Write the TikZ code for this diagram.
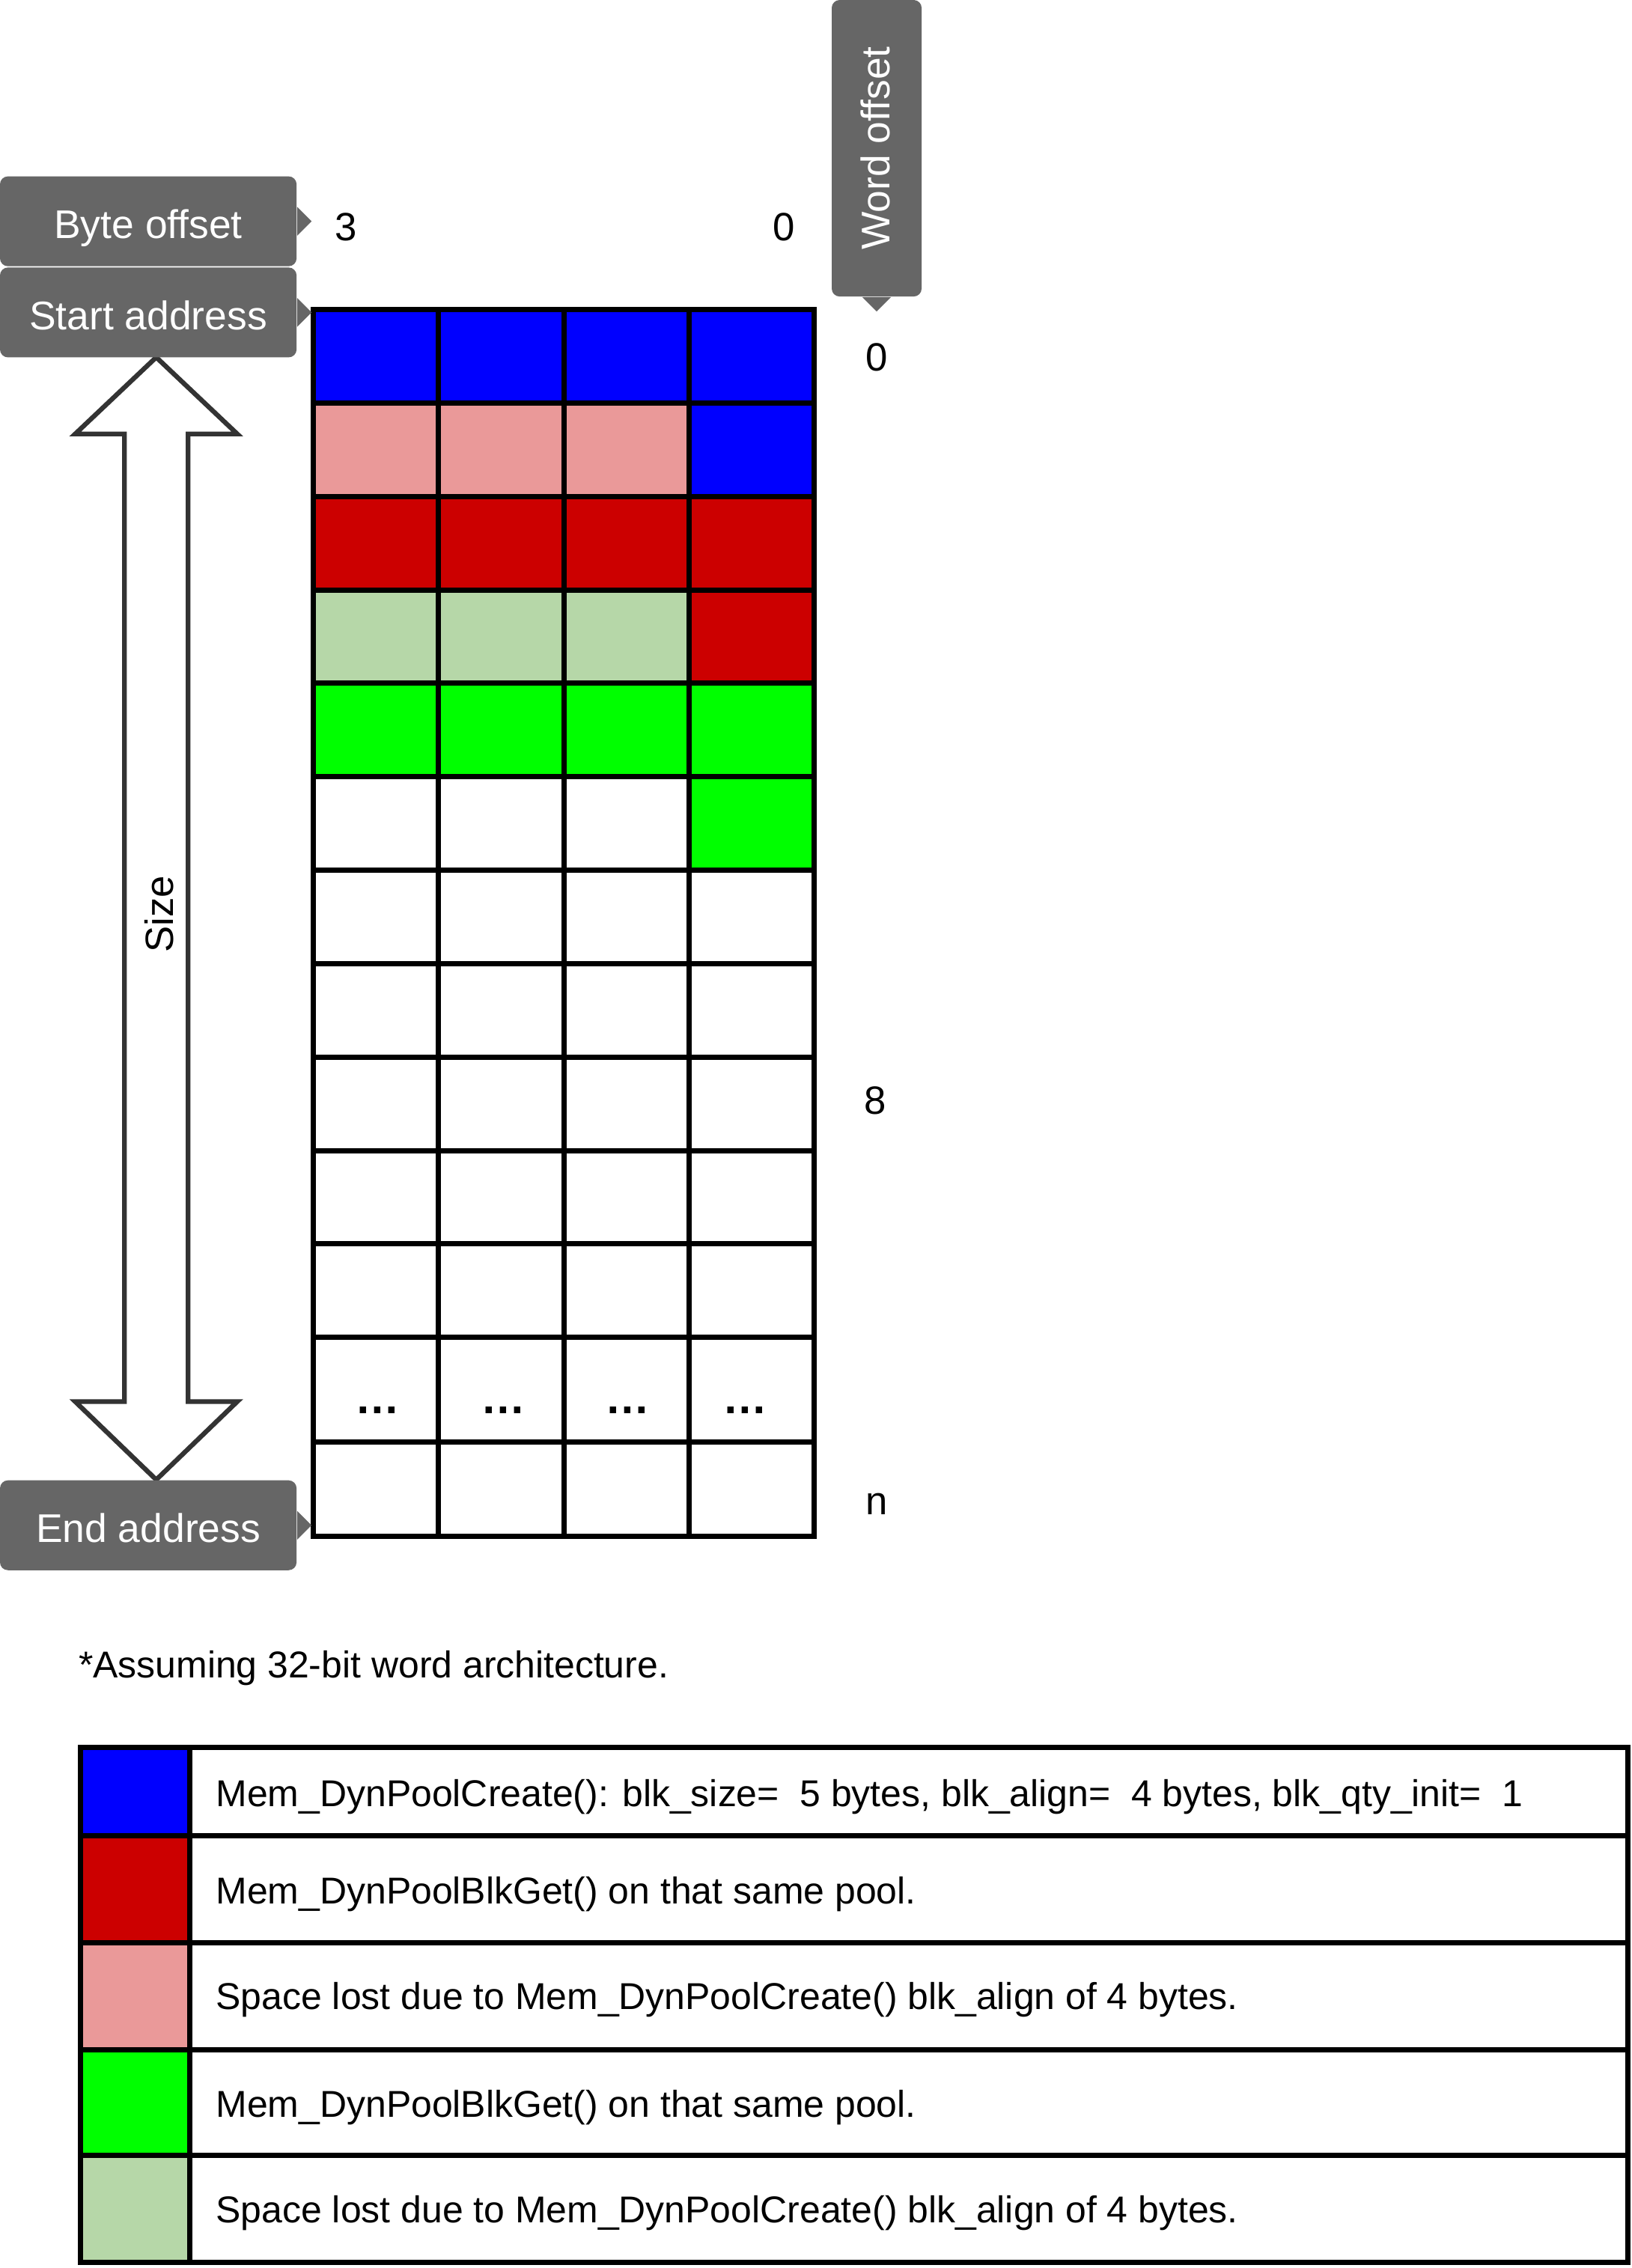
\documentclass[tikz,border=0pt]{standalone}
\usepackage{fontspec}
\setmainfont{Liberation Sans}
\usetikzlibrary{calc}
\definecolor{poolblue}{HTML}{0000FF}
\definecolor{getred}{HTML}{CC0000}
\definecolor{lostred}{HTML}{EA9999}
\definecolor{getgreen}{HTML}{00FF00}
\definecolor{lostgreen}{HTML}{B6D7A8}
\definecolor{taggray}{HTML}{666666}
\definecolor{arrowgray}{HTML}{333333}

\begin{document}
\begin{tikzpicture}[x=0.019317cm,y=-0.019317cm]
  \tikzstyle{tag}=[fill=taggray,rounded corners=3pt,text=white,inner sep=0pt,font=\fontsize{15.2}{18}\selectfont,text height=1.3em,text depth=0pt,minimum width=3.96cm,minimum height=1.2cm]
  \tikzstyle{cell}=[line width=2pt]
  \tikzstyle{lbl}=[font=\fontsize{15}{18}\selectfont]
  \tikzstyle{legtxt}=[anchor=base west,inner sep=0pt,font=\fontsize{14.2}{17}\selectfont]
  \useasboundingbox (0,0) rectangle (1128,1568);

  % memory words
  \foreach \r/\lft/\rgt in {0/poolblue/poolblue,1/lostred/poolblue,2/getred/getred,3/lostgreen/getred,4/getgreen/getgreen,5/white/getgreen} {
    \fill[\lft] (216.5,{214+64.6*\r}) rectangle (476.3,{278.6+64.6*\r});
    \fill[\rgt] (476.3,{214+64.6*\r}) rectangle (562.9,{278.6+64.6*\r});
  }
  \foreach \k in {1,...,11}
    \draw[cell] (216.5,{214+64.6*\k}) -- (562.9,{214+64.6*\k});
  \draw[cell] (216.5,997) -- (562.9,997);
  \foreach \x in {303.1,389.7,476.3}
    \draw[cell] (\x,214) -- (\x,1062);
  \draw[cell] (216.5,214) rectangle (562.9,1062);
  \foreach \x [count=\i] in {261,348,434,515}
    \node[lbl,font=\fontsize{17}{20}\selectfont\bfseries,inner sep=0pt] (dots\i) at (\x,975) {…};

  % size arrow
  \draw[arrowgray,line width=1.8pt,fill=white] (108,247) -- (164,300) -- (130,300) -- (130,969) -- (164,969) -- (108,1023) -- (52,969) -- (86,969) -- (86,300) -- (52,300) -- cycle;
  \node[lbl,rotate=90] (size) at (110,632) {Size};

  % callouts
  \node[tag] (byte) at (102.5,153) {Byte offset};
  \node[tag] (start) at (102.5,216) {Start address};
  \node[tag] (end) at (102.5,1054.5) {End address};
  \node[tag,rotate=90,text height=1em] (word) at (606,102.5) {Word offset};
  \foreach \t in {byte,start,end}
    \fill[taggray] ($(\t.east)+(0,-10)$) -- ($(\t.east)+(10,0)$) -- ($(\t.east)+(0,10)$) -- cycle;
  \fill[taggray] ($(word.west)+(-10,0)$) -- ($(word.west)+(0,10)$) -- ($(word.west)+(10,0)$) -- cycle;

  \node[lbl] (b3) at (239,157) {3};
  \node[lbl] (b0) at (542,157) {0};
  \node[lbl] (w0) at (606,247) {0};
  \node[lbl] (w8) at (605,761) {8};
  \node[lbl] (wn) at (606,1040) {n};

  \node[legtxt] (note) at (54,1160) {*Assuming 32-bit word architecture.};

  % legend
  \foreach \col/\ya/\yb in {poolblue/1208/1269,getred/1269/1343,lostred/1343/1417,getgreen/1417/1490,lostgreen/1490/1564}
    \fill[\col] (55.5,\ya) rectangle (131,\yb);
  \foreach \y in {1269,1343,1417,1490}
    \draw[cell] (55.5,\y) -- (1125.5,\y);
  \draw[cell] (131,1208) -- (131,1564);
  \draw[cell] (55.5,1208) rectangle (1125.5,1564);
  \node[legtxt] (leg1) at (149,1249) {Mem\_DynPoolCreate(): blk\_size=\ \ 5 bytes, blk\_align=\ \ 4 bytes, blk\_qty\_init=\ \ 1};
  \node[legtxt] (leg2) at (149,1316) {Mem\_DynPoolBlkGet() on that same pool.};
  \node[legtxt] (leg3) at (149,1389) {Space lost due to Mem\_DynPoolCreate() blk\_align of 4 bytes.};
  \node[legtxt] (leg4) at (149,1463.5) {Mem\_DynPoolBlkGet() on that same pool.};
  \node[legtxt] (leg5) at (149,1536.5) {Space lost due to Mem\_DynPoolCreate() blk\_align of 4 bytes.};
\end{tikzpicture}
\end{document}
